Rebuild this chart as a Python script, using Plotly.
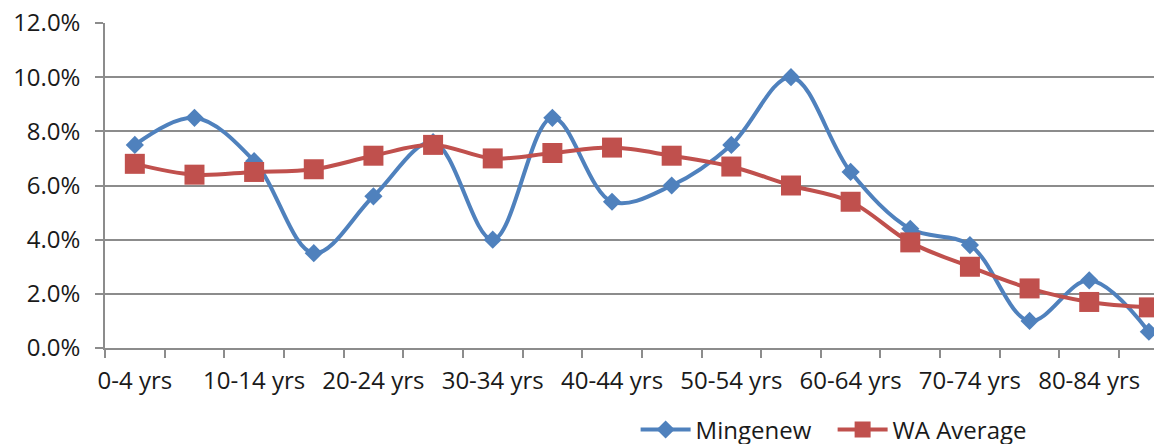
import plotly.graph_objects as go

categories = ["0-4 yrs", "5-9 yrs", "10-14 yrs", "15-19 yrs", "20-24 yrs", "25-29 yrs",
              "30-34 yrs", "35-39 yrs", "40-44 yrs", "45-49 yrs", "50-54 yrs", "55-59 yrs",
              "60-64 yrs", "65-69 yrs", "70-74 yrs", "75-79 yrs", "80-84 yrs", "85+ yrs"]
mingenew = [7.5, 8.5, 6.9, 3.5, 5.6, 7.6, 4.0, 8.5, 5.4, 6.0, 7.5, 10.0,
            6.5, 4.4, 3.8, 1.0, 2.5, 0.6]
wa_average = [6.8, 6.4, 6.5, 6.6, 7.1, 7.5, 7.0, 7.2, 7.4, 7.1, 6.7, 6.0,
              5.4, 3.9, 3.0, 2.2, 1.7, 1.5]
y_ticks = [0, 2, 4, 6, 8, 10, 12]

xi = list(range(len(categories)))
FONT = "Open Sans"
TXT = "#1a1a1a"
GRID = "#8c8c8c"

fig = go.Figure()
fig.add_trace(go.Scatter(
    x=xi, y=mingenew, name="Mingenew", mode="lines+markers",
    line=dict(color="#4F81BD", width=4, shape="spline", smoothing=1.0),
    marker=dict(symbol="diamond", size=14, color="#4F81BD"),
))
fig.add_trace(go.Scatter(
    x=xi, y=wa_average, name="WA Average", mode="lines+markers",
    line=dict(color="#C0504D", width=4, shape="spline", smoothing=1.0),
    marker=dict(symbol="square", size=20, color="#C0504D"),
))

# page body has an 8px margin; figure is sized/offset to compensate
fig.update_layout(
    width=1154, height=436,
    margin=dict(l=97, r=0, t=15, b=96, autoexpand=False),
    paper_bgcolor="white", plot_bgcolor="white",
    font=dict(family=FONT, size=24, color=TXT),
    showlegend=True,
    legend=dict(orientation="h", x=0.502, xanchor="left", y=-0.252, yanchor="middle",
                font=dict(family=FONT, size=24, color=TXT), itemwidth=50,
                entrywidth=132, entrywidthmode="pixels",
                bgcolor="rgba(0,0,0,0)"),
    xaxis=dict(
        range=[-0.5, 17.22],
        tickmode="array", tickvals=xi[::2], ticktext=categories[::2],
        ticks="", showgrid=False, zeroline=False,
        showline=True, linecolor=GRID, linewidth=1.5,
        tickfont=dict(family=FONT, size=24, color=TXT),
        minor=dict(tickmode="linear", tick0=-0.5, dtick=1, ticks="outside",
                   ticklen=8, tickcolor=GRID, tickwidth=1.5, showgrid=False),
        ticklabelstandoff=10, ticklabeloverflow="allow",
    ),
    yaxis=dict(
        range=[0, 12], tickmode="array", tickvals=y_ticks,
        ticktext=[f"{v:.1f}%" for v in y_ticks],
        showgrid=True, gridcolor=GRID, gridwidth=1.5,
        ticks="outside", ticklen=8, tickcolor=GRID, tickwidth=1.5,
        zeroline=False, showline=True, linecolor=GRID, linewidth=1.5,
        tickfont=dict(family=FONT, size=24, color=TXT),
        ticklabelstandoff=10, ticklabeloverflow="allow",
    ),
)

fig.write_html("out.html")
